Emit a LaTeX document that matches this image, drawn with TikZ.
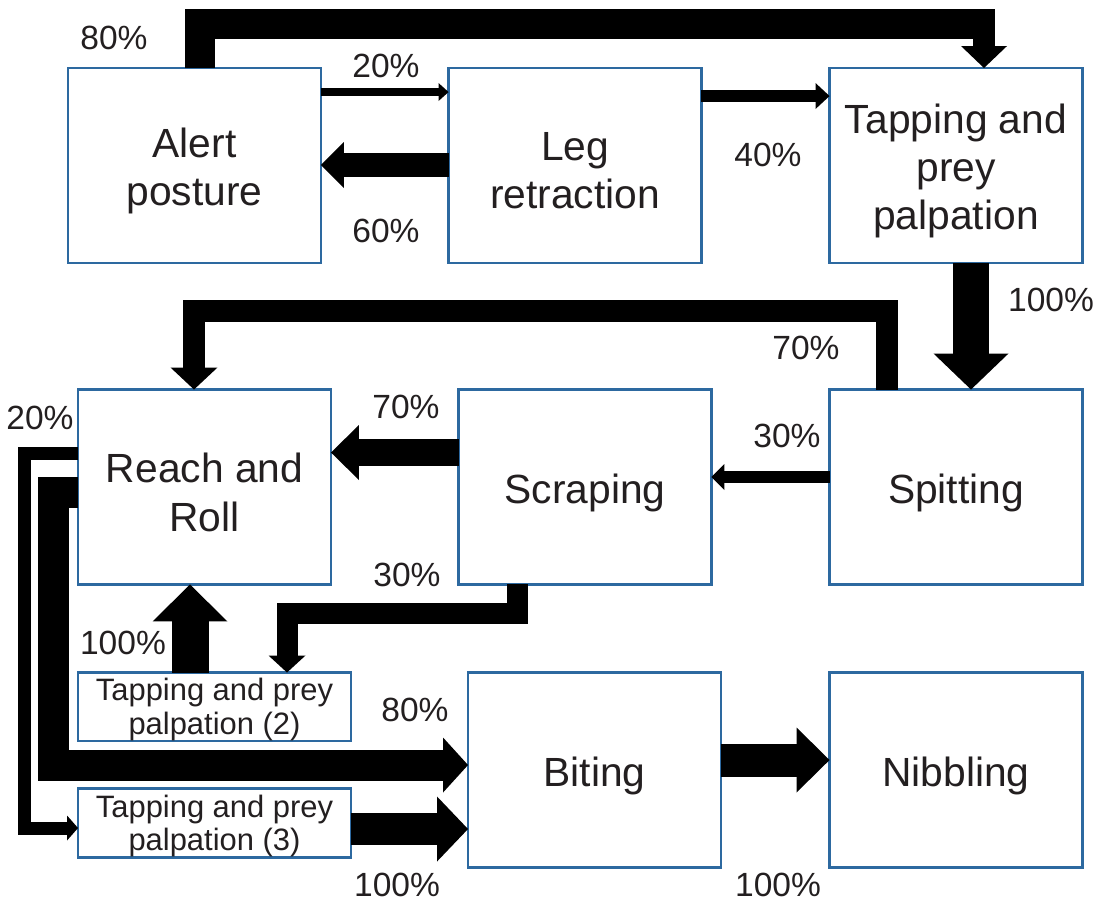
\documentclass[tikz,border=0pt]{standalone}
\usepackage{fontspec}
\setmainfont{Liberation Sans}
\usetikzlibrary{arrows.meta,calc}
\definecolor{boxblue}{RGB}{45,105,160}
\definecolor{txt}{RGB}{35,31,32}
\begin{document}
\begin{tikzpicture}[x=0.02cm,y=-0.02cm,
  box/.style={draw=boxblue, line width=0.055cm, fill=white, inner sep=0pt, outer sep=0pt},
  big/.style={box, minimum width=5.06cm, minimum height=3.9cm, label={[bigtxt]center:{#1}}},
  small/.style={box, minimum width=5.46cm, minimum height=1.37cm, label={[smalltxt]center:{#1}}},
  bigtxt/.style={align=center, text=txt, inner sep=0pt, yshift=-0.11cm, font=\fontsize{23.2}{27.5}\selectfont},
  smalltxt/.style={align=center, text=txt, inner sep=0pt, yshift=-0.06cm, font=\fontsize{17.6}{19.3}\selectfont},
  pct/.style={text=txt, inner sep=0pt, font=\fontsize{19.1}{22}\selectfont},
  flow/.style={draw=black, line join=miter},
  ah/.style 2 args={-{Triangle[width=#1,length=#2,line width=0pt]}},
]
\useasboundingbox (0,0) rectangle (1104,903);

% boxes
\node[big={Alert\\posture}] (alert) at (194.5,165.5) {};
\node[big={Leg\\retraction}] (leg) at (575,165.5) {};
\node[big={Tapping and\\prey\\palpation}] (tap1) at (956,165.5) {};
\node[big={Reach and\\Roll}] (reach) at (204.5,487) {};
\node[big={Scraping}] (scrap) at (585,487) {};
\node[big={Spitting}] (spit) at (956,487) {};
\node[small={Tapping and prey\\palpation (2)}] (tap2) at (214.5,706.75) {};
\node[small={Tapping and prey\\palpation (3)}] (tap3) at (214.5,823) {};
\node[big={Biting}] (bite) at (594.5,770) {};
\node[big={Nibbling}] (nib) at (956,770) {};

% connectors
\draw[flow, line width=0.6cm] ($(alert.north)+(5,0)$) |- ($(tap1.north)+(39,-44)$);
\draw[flow, line width=0.44cm, ah={0.92cm}{0.44cm}] ($(tap1.north)+(28,-59)$) -- ($(tap1.north)+(28,0)$);

\draw[flow, line width=0.16cm, ah={0.36cm}{0.2cm}] ($(alert.north east)+(0,24)$) -- ($(leg.north west)+(0,24)$);
\draw[flow, line width=0.48cm, ah={0.92cm}{0.46cm}] ($(leg.west)+(0,-0.5)$) -- ($(alert.east)+(0,-0.5)$);
\draw[flow, line width=0.24cm, ah={0.52cm}{0.28cm}] ($(leg.north east)+(0,28)$) -- ($(tap1.north west)+(0,28)$);

\draw[flow, line width=0.72cm, ah={1.5cm}{0.72cm}] ($(tap1.south)+(15,0)$) -- ($(spit.north)+(15,0)$);
\draw[flow, line width=0.44cm, ah={0.94cm}{0.44cm}] ($(spit.north)+(-69,0)$) -- ++(0,-79) -| ($(reach.north)+(-10.5,0)$);
\draw[flow, line width=0.24cm, ah={0.52cm}{0.26cm}] ($(spit.west)+(0,-10)$) -- ($(scrap.east)+(0,-10)$);
\draw[flow, line width=0.54cm, ah={1.1cm}{0.56cm}] ($(scrap.west)+(0,-34.5)$) -- ($(reach.east)+(0,-34.5)$);
\draw[flow, line width=0.42cm, ah={0.74cm}{0.34cm}] ($(scrap.south)+(-68,0)$) -- ++(0,29) -| ($(tap2.north)+(72.5,0)$);
\draw[flow, line width=0.74cm, ah={1.5cm}{0.74cm}] ($(tap2.north)+(-24.5,0)$) -- ($(reach.south)+(-14.5,0)$);

\draw[flow, line width=0.62cm, ah={1.1cm}{0.5cm}] ($(reach.west)+(0,5)$) -- ++(-25,0) |- ($(bite.west)+(0,-5)$);
\draw[flow, line width=0.26cm, ah={0.5cm}{0.22cm}] ($(reach.west)+(0,-34)$) -- ++(-54,0) |- ($(tap3.west)+(0,5)$);
\draw[flow, line width=0.64cm, ah={1.3cm}{0.62cm}] ($(tap3.east)+(0,6)$) -- ($(bite.west)+(0,59)$);
\draw[flow, line width=0.66cm, ah={1.3cm}{0.66cm}] ($(bite.east)+(0,-10)$) -- ($(nib.west)+(0,-10)$);

% labels
\node[pct] (p1)  at (114,38)  {80\%};
\node[pct] (p2)  at (386,66)  {20\%};
\node[pct] (p3)  at (386,231) {60\%};
\node[pct] (p4)  at (768,155) {40\%};
\node[pct] (p5)  at (1051,300) {100\%};
\node[pct] (p6)  at (806,348) {70\%};
\node[pct] (p7)  at (787,436) {30\%};
\node[pct] (p8)  at (406,407) {70\%};
\node[pct] (p9)  at (407,575) {30\%};
\node[pct] (p10) at (123,643) {100\%};
\node[pct] (p11) at (40,418)  {20\%};
\node[pct] (p12) at (415,710) {80\%};
\node[pct] (p13) at (397,885) {100\%};
\node[pct] (p14) at (778,885) {100\%};
\end{tikzpicture}
\end{document}
